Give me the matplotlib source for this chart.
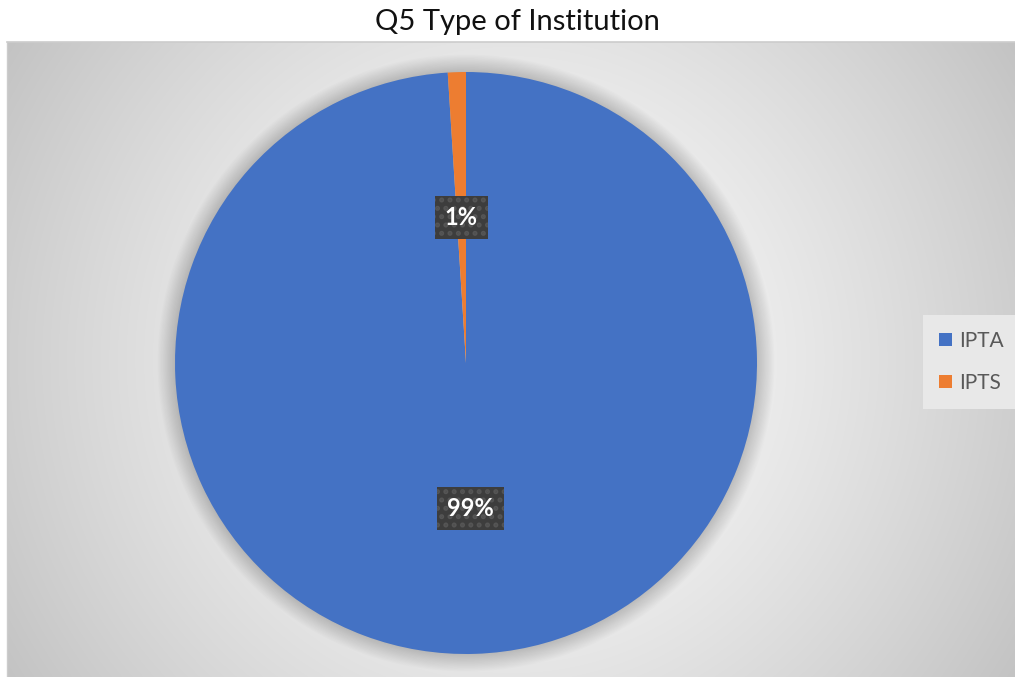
import numpy as np
import matplotlib
matplotlib.use("Agg")
import matplotlib.pyplot as plt
from matplotlib.patches import Patch, Circle
from matplotlib.lines import Line2D

# ---- data ----
categories = ["IPTA", "IPTS"]
values = [99, 1]
colors = ["#4472C4", "#ED7D31"]
title = "Q5 Type of Institution"

plt.rcParams['font.family'] = ['Lato', 'DejaVu Sans']
plt.rcParams['hatch.linewidth'] = 2.4

W, H = 1015, 677
fig = plt.figure(figsize=(W / 100, H / 100), dpi=100)
fig.patch.set_facecolor("white")

# ---- plot-area background: radial gradient ----
px0, py0, px1, py1 = 7, 42, 1015, 677   # pixel box (top-left origin)
bg = fig.add_axes([px0 / W, (H - py1) / H, (px1 - px0) / W, (py1 - py0) / H])
gw, gh = px1 - px0, py1 - py0
xx, yy = np.meshgrid(np.arange(gw) - gw / 2, np.arange(gh) - gh / 2)
d = np.sqrt(xx ** 2 + yy ** 2) / np.sqrt((gw / 2) ** 2 + (gh / 2) ** 2)
lev = (255 - 60 * d ** 1.3) / 255.0
img = np.dstack([lev, lev, lev])
bg.imshow(img, aspect="auto", interpolation="nearest",
          extent=(0, gw, gh, 0))
bg.set_xlim(0, gw)
bg.set_ylim(gh, 0)
bg.set_axis_off()
fig.add_artist(Line2D([px0 / W, 1], [1 - py0 / H, 1 - py0 / H],
                      transform=fig.transFigure, color="#cccccc", lw=1.2))
fig.add_artist(Line2D([px0 / W, px0 / W], [0, 1 - py0 / H],
                      transform=fig.transFigure, color="#cccccc", lw=1.0))

# ---- pie ----
cx, cy, R = 466, 363, 291
half = 320
ax = fig.add_axes([(cx - half) / W, (H - cy - half) / H, 2 * half / W, 2 * half / H])
ax.set_facecolor("none")

for k in range(16):
    ax.add_patch(Circle((0, 0), 1 + 0.0040 * k, color="black", alpha=0.011,
                        lw=0, zorder=0))

wedges, texts, autotexts = ax.pie(
    values, colors=colors, startangle=90, counterclock=False, radius=1.0,
    autopct="%1.0f%%", pctdistance=0.5,
    wedgeprops=dict(linewidth=0, zorder=2),
    textprops=dict(color="white", fontsize=17, fontweight="bold"))
for t in autotexts:
    t.set_bbox(dict(boxstyle="square,pad=0.42", facecolor="#3d3d3d",
                    edgecolor="#555555", linewidth=0, hatch=".."))
    t.set_zorder(5)
ax.set_xlim(-half / R, half / R)
ax.set_ylim(-half / R, half / R)
ax.set_aspect("equal")
ax.set_axis_off()

# ---- title ----
fig.text(517 / W, 1 - 22 / H, title, ha="center", va="center",
         fontsize=21, color="#111111")

# ---- legend ----
handles = [Patch(facecolor=c, edgecolor="none") for c in colors]
leg = fig.legend(handles, categories, loc="center left",
                 bbox_to_anchor=(923 / W, 1 - 362 / H),
                 frameon=True, fontsize=15, labelcolor="#595959",
                 handlelength=0.62, handleheight=0.62, handletextpad=0.35,
                 labelspacing=1.05, borderpad=0.75, borderaxespad=0,
                 fancybox=False)
leg.get_frame().set_facecolor("#e8e8e8")
leg.get_frame().set_edgecolor("none")
leg.get_frame().set_alpha(1)

fig.savefig("out.png", dpi=100, facecolor="white")
